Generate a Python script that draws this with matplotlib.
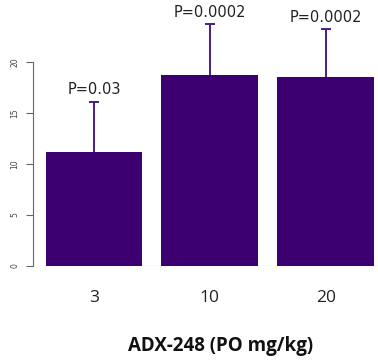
import matplotlib
matplotlib.use("Agg")
import matplotlib.pyplot as plt
import numpy as np

categories = ["3", "10", "20"]
means = [11.2, 18.75, 18.5]
err_upper = [4.9, 4.95, 4.7]
p_labels = ["P=0.03", "P=0.0002", "P=0.0002"]
yticks = [0, 5, 10, 15, 20]

bar_color = "#3d0071"
err_color = "#4a1a8a"

fig = plt.figure(figsize=(3.78, 3.62), dpi=100)
ax = fig.add_axes([33/378, 96/362, 345/378, 266/362])

x = np.arange(len(categories))
m = np.array(means)
e = np.array(err_upper)
ax.bar(x, m, width=0.836, color=bar_color, zorder=3)
ax.vlines(x, m, m + e, color=err_color, lw=1.4, zorder=2)
ax.hlines(m + e, x - 0.045, x + 0.045, color=err_color, lw=1.4, zorder=2)
for xi, mi, ei, p in zip(x, m, e, p_labels):
    ax.text(xi, mi + ei + 0.45, p, ha="center", va="bottom", fontsize=10.5,
            family="DejaVu Sans", color="#222222")

ax.set_xlim(-0.526, 2.45)
ax.set_ylim(0, 26.08)
ax.axhline(0, color="#888888", lw=0.8, zorder=1)

for s in ["top", "right", "bottom"]:
    ax.spines[s].set_visible(False)
ax.spines["left"].set_bounds(0, 20)
ax.spines["left"].set_color("#666666")
ax.spines["left"].set_linewidth(0.8)

ax.set_yticks(yticks)
ax.set_yticklabels([str(v) for v in yticks], rotation=90, va="center",
                   fontsize=5.5, color="#444444")
ax.tick_params(axis="y", length=5, width=0.8, color="#666666", pad=5)

ax.set_xticks(x)
ax.set_xticklabels(categories, fontsize=12.5, family="Open Sans", color="#222222")
ax.tick_params(axis="x", length=0, pad=17)

fig.text(221/378, 1 - 346/362, "ADX-248 (PO mg/kg)", ha="center", va="center",
         fontsize=13.5, fontweight="bold", family="Open Sans", color="#111111")

fig.savefig("out.png", dpi=100)
